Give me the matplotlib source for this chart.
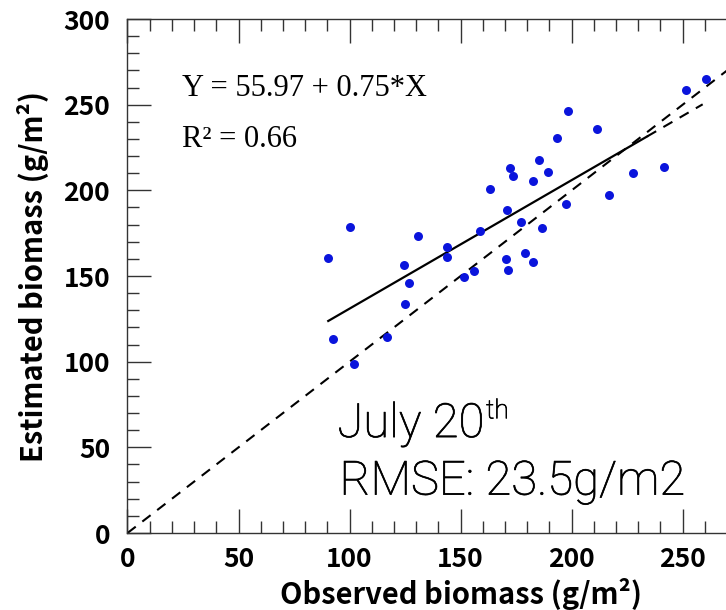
import numpy as np
import matplotlib
matplotlib.use("Agg")
import matplotlib.pyplot as plt
import matplotlib.patheffects as pe
from matplotlib.ticker import MultipleLocator

# observed vs estimated biomass (g/m2)
observed = [90.4, 100.2, 92.7, 102.0, 117.0, 125.0, 126.8, 124.5, 130.7, 144.0,
            144.0, 151.7, 156.2, 158.7, 163.2, 170.8, 170.4, 171.2, 172.1, 173.4,
            177.2, 179.1, 182.7, 182.7, 185.2, 186.7, 189.2, 193.5, 197.5, 198.5,
            211.6, 216.7, 227.5, 241.5, 251.6, 260.5]
estimated = [160.3, 178.6, 113.2, 98.5, 114.2, 133.7, 146.1, 156.2, 173.3, 166.7,
             160.9, 149.6, 152.7, 176.1, 200.6, 188.3, 160.1, 153.5, 213.2, 208.6,
             181.3, 163.2, 158.4, 205.6, 217.7, 178.2, 210.9, 230.7, 191.8, 246.5,
             236.0, 197.1, 209.9, 213.8, 258.7, 265.0]

intercept = 55.97
slope = 0.75
fit_solid_x = [90.4, 234.0]
fit_dash_x = [234.0, 259.0]
one_to_one = [0, 300]
tick_vals = [0, 50, 100, 150, 200, 250]

label_font = "Noto Sans CJK SC"
note_font = "Roboto"

fig = plt.figure(figsize=(7.26, 6.10), dpi=100)
# axes runs past the right edge, as in the cropped original
ax = fig.add_axes([0.1756, 0.1262, 0.9177, 0.8426])

# 1:1 line
ax.plot(one_to_one, one_to_one, color="black", lw=1.5, ls=(0, (5, 4)))
# regression line
fx = np.array(fit_solid_x)
ax.plot(fx, intercept + slope * fx, color="black", lw=1.6)
fx2 = np.array(fit_dash_x)
ax.plot(fx2, intercept + slope * fx2, color="black", lw=1.5, ls=(0, (5, 4)))

ax.scatter(observed, estimated, s=42, color="#0a14dc", zorder=3, linewidths=0)

ax.set_xlim(0, 300)
ax.set_ylim(0, 300)
ax.set_xticks(tick_vals)
ax.set_yticks(tick_vals + [300])
ax.xaxis.set_minor_locator(MultipleLocator(10))
ax.yaxis.set_minor_locator(MultipleLocator(10))
ax.tick_params(which="both", direction="in", top=True, right=True,
               color="#333333", width=1.0)
ax.tick_params(which="major", length=17)
ax.tick_params(which="minor", length=8.5)
ax.tick_params(axis="x", pad=9)
ax.tick_params(axis="y", pad=12.5)
for lab in ax.get_xticklabels() + ax.get_yticklabels():
    lab.set_fontfamily(label_font)
    lab.set_fontweight("bold")
    lab.set_fontsize(19)
for sp in ax.spines.values():
    sp.set_color("#333333")
    sp.set_linewidth(1.0)

ax.set_xlabel("Observed biomass (g/m²)", fontfamily=label_font,
              fontweight="bold", fontsize=21, labelpad=4)
ax.set_ylabel("Estimated biomass (g/m²)", fontfamily=label_font,
              fontweight="bold", fontsize=21, labelpad=10)

ax.text(24.4, 255.1, "Y = 55.97 + 0.75*X", fontfamily="Liberation Serif",
        fontsize=22, va="baseline")
ax.text(24.4, 225.1, "R² = 0.66", fontfamily="Liberation Serif",
        fontsize=22, va="baseline")

# light text, thickened a little
thick = [pe.withStroke(linewidth=0.5, foreground="black")]
t1 = ax.text(94.5, 56.0, "July 20", fontfamily=note_font, fontweight="light",
             fontsize=34, va="baseline", path_effects=thick)
ax.annotate("th", xy=(1.0, 1.0), xycoords=t1, xytext=(1, 2),
            textcoords="offset points", fontfamily=note_font,
            fontweight="light", fontsize=19, va="top", path_effects=thick)
ax.text(95.5, 22.4, "RMSE: 23.5g/m2", fontfamily=note_font, fontweight="light",
        fontsize=34, va="baseline", path_effects=thick)

fig.savefig("out.png", dpi=100)
